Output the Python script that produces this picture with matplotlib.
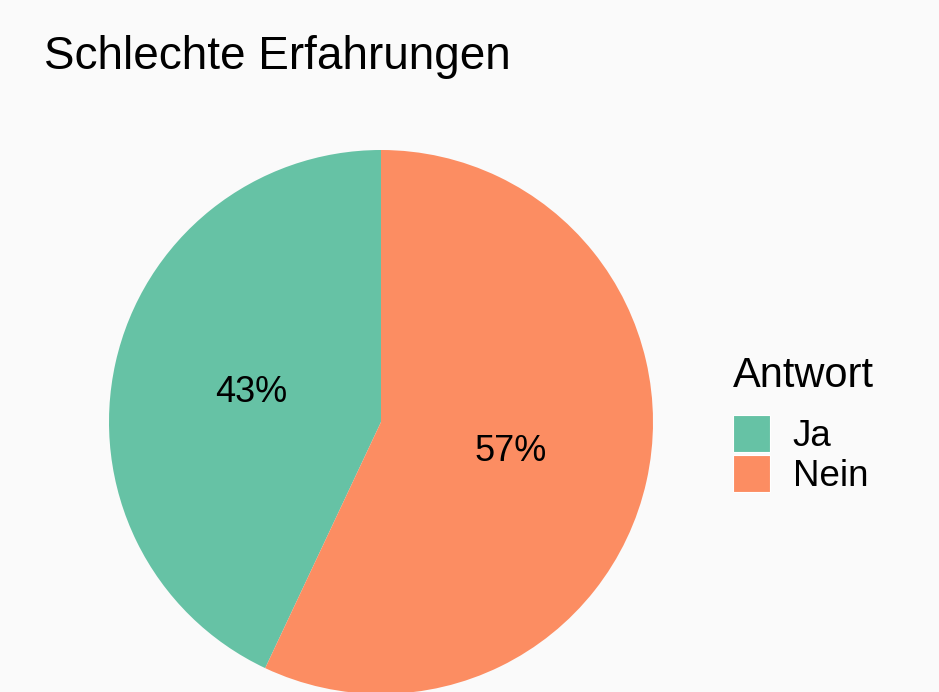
import matplotlib
matplotlib.use("Agg")
import matplotlib.pyplot as plt
from matplotlib.patches import Patch

plt.rcParams['font.family'] = ['Liberation Sans', 'DejaVu Sans']

answers = ['Ja', 'Nein']
shares = [43, 57]
colors = ['#66C2A5', '#FC8D62']
title = 'Schlechte Erfahrungen'
legend_title = 'Antwort'

W, H = 939, 692
bg = '#FAFAFA'

fig = plt.figure(figsize=(W / 100, H / 100), dpi=100, facecolor=bg)
ax = fig.add_axes([0, 0, 1, 1])
ax.set_facecolor(bg)

# pie placed in pixel units of the figure
wedges, texts, autotexts = ax.pie(
    shares, colors=colors, startangle=90, counterclock=True,
    center=(381, H - 422), radius=272,
    autopct=lambda p: '%d%%' % round(p), pctdistance=0.49,
    wedgeprops=dict(linewidth=0),
    textprops=dict(fontsize=26, color='black'))

ax.set_xlim(0, W)
ax.set_ylim(0, H)
ax.set_aspect('equal', adjustable='box')
ax.axis('off')

fig.text(44 / W, (H - 69) / H, title, fontsize=33, va='baseline', ha='left')

handles = [Patch(facecolor=c, edgecolor='white', linewidth=0.8) for c in colors]
leg = fig.legend(handles, answers, title=legend_title, loc='upper left',
                 bbox_to_anchor=(733 / W, (H - 356) / H), frameon=False,
                 fontsize=26.5, title_fontsize=30, handlelength=1.0,
                 handleheight=1.17, handletextpad=0.62, labelspacing=0.02,
                 borderpad=0, borderaxespad=0, alignment='left')
leg._legend_box.sep = 14

fig.savefig('out.png', dpi=100, facecolor=bg)
